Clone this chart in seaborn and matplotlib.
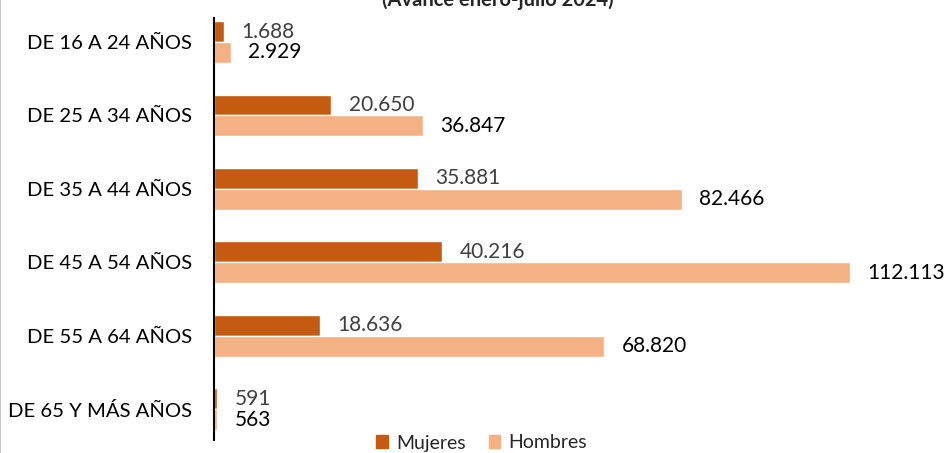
import matplotlib
matplotlib.use("Agg")
import matplotlib.pyplot as plt
import seaborn as sns
import pandas as pd
from matplotlib.lines import Line2D

categories = ["DE 16 A 24 AÑOS", "DE 25 A 34 AÑOS", "DE 35 A 44 AÑOS",
              "DE 45 A 54 AÑOS", "DE 55 A 64 AÑOS", "DE 65 Y MÁS AÑOS"]
mujeres = [1688, 20650, 35881, 40216, 18636, 591]
hombres = [2929, 36847, 82466, 112113, 68820, 563]
series = ["Mujeres", "Hombres"]
colors = ["#C55A11", "#F4B183"]
title = "(Avance enero-julio 2024)"

df = pd.DataFrame({
    "Edad": categories * 2,
    "Valor": mujeres + hombres,
    "Sexo": [series[0]] * len(categories) + [series[1]] * len(categories),
})

sns.set_theme(style="white")
plt.rcParams["font.family"] = ["Lato", "DejaVu Sans"]

fig = plt.figure(figsize=(9.48, 4.53), dpi=100)
ax = fig.add_axes([214 / 948, 1 - 440 / 453, (940 - 214) / 948, (440 - 18) / 453])

sns.barplot(data=df, y="Edad", x="Valor", hue="Sexo", hue_order=series,
            palette=colors, order=categories, orient="h", width=0.57,
            saturation=1, ax=ax, legend=False)

ax.set_xlim(0, 112113 * (940 - 214) / (850 - 214))
ax.set_ylim(5.42, -0.327)

def fmt(v):
    return f"{v:,}".replace(",", ".")

label_colors = ["#404040", "#000000"]
for cont, vals, lc in zip(ax.containers, [mujeres, hombres], label_colors):
    ax.bar_label(cont, labels=[fmt(v) for v in vals], padding=12.5,
                 fontsize=15, color=lc)

for s in ["top", "right", "bottom"]:
    ax.spines[s].set_visible(False)
ax.spines["left"].set_color("black")
ax.spines["left"].set_linewidth(1.5)
ax.set_xticks([])
ax.set_xlabel("")
ax.set_ylabel("")
ax.tick_params(axis="y", length=0, pad=16, labelsize=14.6, labelcolor="black")

handles = [plt.Rectangle((0, 0), 1, 1, color=c) for c in colors]
fig.legend(handles, series, loc="center", bbox_to_anchor=(0.508, 1 - 443 / 453),
           ncol=2, frameon=False, fontsize=14, handlelength=0.6,
           handleheight=0.6, handletextpad=0.4, columnspacing=1.2)

fig.text(0.525, 1 - 0 / 453, title, ha="center", va="center",
         fontsize=14.5, fontweight="bold", color="#262626")

fig.add_artist(Line2D([0.0005, 0.0005], [0, 1], transform=fig.transFigure,
                      color="#BFBFBF", lw=1.2))

fig.savefig("out.png", dpi=100)
